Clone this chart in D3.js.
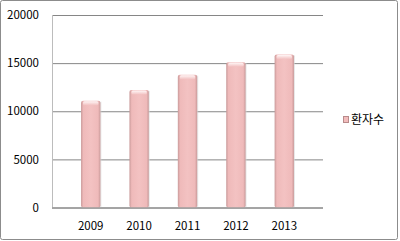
<!DOCTYPE html>
<html lang="ko">
<head>
<meta charset="UTF-8">
<title>환자수</title>
<script src="https://d3js.org/d3.v7.min.js"></script>
<style>
  body { margin: 0; background: #fff; }
  svg { display: block; }
  text { font-family: "Noto Sans CJK KR", "DejaVu Sans", sans-serif; font-size: 11px; fill: #000; }
</style>
</head>
<body>
<svg id="chart" width="400" height="241"></svg>
<script>
// datos del gráfico
const years = ["2009", "2010", "2011", "2012", "2013"];
const patients = [11100, 12200, 13800, 15100, 15900];
const yTicks = [0, 5000, 10000, 15000, 20000];
const seriesName = "환자수";

const svg = d3.select("#chart");
const margin = { left: 52, right: 323, top: 15, bottom: 207.5 };

// marco exterior
svg.append("rect")
  .attr("x", 0.5).attr("y", 0.5)
  .attr("width", 397).attr("height", 239)
  .attr("rx", 2)
  .attr("fill", "#fff")
  .attr("stroke", "#8c8c8c");

const x = d3.scaleBand()
  .domain(years)
  .range([margin.left, margin.right])
  .padding(0.6);

const y = d3.scaleLinear()
  .domain([0, 20000])
  .range([margin.bottom, margin.top]);

// gradiente de las barras
const defs = svg.append("defs");
const grad = defs.append("linearGradient").attr("id", "barGrad")
  .attr("x1", "0%").attr("x2", "100%").attr("y1", "0%").attr("y2", "0%");
grad.append("stop").attr("offset", "0%").attr("stop-color", "#c99a9a");
grad.append("stop").attr("offset", "12%").attr("stop-color", "#efbaba");
grad.append("stop").attr("offset", "50%").attr("stop-color", "#f3c2c2");
grad.append("stop").attr("offset", "88%").attr("stop-color", "#efbaba");
grad.append("stop").attr("offset", "100%").attr("stop-color", "#c99a9a");

const topGrad = defs.append("linearGradient").attr("id", "topGrad")
  .attr("x1", "0%").attr("x2", "0%").attr("y1", "0%").attr("y2", "100%");
topGrad.append("stop").attr("offset", "0%").attr("stop-color", "#fff7f7");
topGrad.append("stop").attr("offset", "100%").attr("stop-color", "#f2c2c2");

// líneas de la cuadrícula
svg.append("g")
  .attr("transform", `translate(${margin.left},0)`)
  .call(d3.axisLeft(y).tickValues(yTicks).tickSize(-(margin.right - margin.left)).tickFormat(""))
  .call(g => g.select(".domain").remove())
  .call(g => g.selectAll(".tick line").attr("stroke", "#868686"));

// etiquetas del eje Y
svg.append("g")
  .attr("transform", `translate(${margin.left - 9},0)`)
  .call(d3.axisLeft(y).tickValues(yTicks).tickSize(0).tickPadding(4).tickFormat(d3.format("d")))
  .call(g => g.select(".domain").remove())
  .call(g => g.selectAll("text").attr("fill", "#000").style("font-size", "11.5px"));

// eje vertical
svg.append("line")
  .attr("x1", margin.left + 0.5).attr("x2", margin.left + 0.5)
  .attr("y1", margin.top).attr("y2", margin.bottom)
  .attr("stroke", "#bcbcbc");

// barras
const bars = svg.append("g").selectAll("g.bar")
  .data(years.map((d, i) => ({ year: d, value: patients[i] })))
  .join("g").attr("class", "bar");

bars.append("rect")
  .attr("x", d => x(d.year) + 1)
  .attr("y", d => y(d.value) + 1)
  .attr("width", x.bandwidth())
  .attr("height", d => y(0) - y(d.value) - 1)
  .attr("fill", "#d8d8d8")
  .attr("opacity", 0.6);

bars.append("rect")
  .attr("x", d => x(d.year))
  .attr("y", d => y(d.value))
  .attr("width", x.bandwidth())
  .attr("height", d => y(0) - y(d.value))
  .attr("rx", 2)
  .attr("fill", "url(#barGrad)");

bars.append("rect")
  .attr("x", d => x(d.year) + 2)
  .attr("y", d => y(d.value) + 0.5)
  .attr("width", x.bandwidth() - 4)
  .attr("height", 4)
  .attr("rx", 1.5)
  .attr("fill", "url(#topGrad)");

// eje X
svg.append("g")
  .attr("transform", `translate(0,${margin.bottom})`)
  .call(d3.axisBottom(x).tickSize(0).tickPadding(14))
  .call(g => g.select(".domain").attr("stroke", "#868686").attr("d", `M${margin.left},0.5H${margin.right}`))
  .call(g => g.selectAll("text").attr("fill", "#000").style("font-size", "11.5px"));

// leyenda
const legend = svg.append("g").attr("transform", "translate(343,120)");
legend.append("rect")
  .attr("x", 0.5).attr("y", -3.5)
  .attr("width", 5).attr("height", 6)
  .attr("fill", "#f2bcbc").attr("stroke", "#b88a8a");
legend.append("text")
  .attr("x", 8).attr("y", 0)
  .attr("dy", "0.35em")
  .style("font-size", "12px")
  .text(seriesName);
</script>
</body>
</html>
